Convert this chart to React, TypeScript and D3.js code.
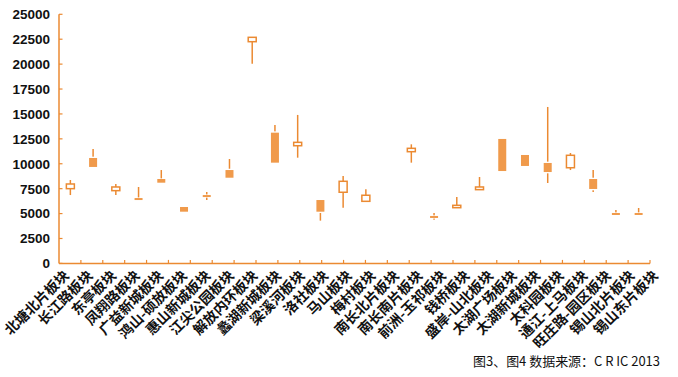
import React from "react";
import * as d3 from "d3";

const categories = [
  "北塘北片板块", "长江路板块", "东亭板块", "凤翔路板块", "广益新城板块",
  "鸿山-硕放板块", "惠山新城板块", "江尖公园板块", "解放内环板块", "蠡湖新城板块",
  "梁溪河板块", "洛社板块", "马山板块", "梅村板块", "南长北片板块",
  "南长南片板块", "前洲-玉祁板块", "钱桥板块", "盛岸-山北板块", "太湖广场板块",
  "太湖新城板块", "太科园板块", "通江-上马板块", "旺庄路-园区板块", "锡山北片板块",
  "锡山东片板块",
];

const openVals: (number | null)[] = [7500, 10580, 7300, 6560, 8470, 5660, 6860, 9370, 22250, 13120, 11810, 6360, 7140, 6230, null, 11210, 4760, 5590, 7400, 12490, 10880, 10080, 9600, 8470, 5060, 5060];
const highVals: (number | null)[] = [8370, 11480, 7970, 7670, 9370, 5660, 7170, 10480, 22690, 13890, 14900, 6360, 8770, 7440, null, 11950, 5060, 6660, 8670, 12490, 10880, 15700, 11080, 9370, 5360, 5560];
const lowVals: (number | null)[] = [6860, 9650, 6860, 6360, 8100, 5190, 6360, 8600, 20040, 10110, 10610, 4290, 5590, 6230, null, 10110, 4390, 5590, 7400, 9270, 9780, 8070, 9370, 7170, 4860, 4860];
const closeVals: (number | null)[] = [7970, 9680, 7670, 6360, 8100, 5190, 6660, 8600, 22690, 10110, 12150, 5190, 8240, 6840, null, 11550, 4590, 5830, 7670, 9270, 9780, 9170, 10850, 7470, 4860, 4860];

const yTicks = [0, 2500, 5000, 7500, 10000, 12500, 15000, 17500, 20000, 22500, 25000];
const sourceNote = "图3、图4 数据来源：C R IC 2013";

const W = 678;
const H = 377;
const ORANGE = "#EB8A32";
const FILL = "#F09A4B";

export default function App() {
  const left = 59, right = 650, top = 14.3, bottom = 263.4;
  const y = d3.scaleLinear().domain([0, 25000]).range([bottom, top]);
  const x = d3.scaleBand<string>().domain(categories).range([left, right]).padding(0);
  const labelX = d3.scalePoint<string>().domain(categories).range([70, 659]);
  const tickScale = d3.scaleLinear().domain([0, 27]).range([left, right]);
  const xTicks = d3.range(1, 28).map((i) => tickScale(i));
  const boxW = 8;

  return (
    <svg width={W} height={H} style={{ position: "absolute", left: 0, top: 0, background: "#fff" }}>
      {/* y axis */}
      <line x1={left} x2={left} y1={top} y2={bottom} stroke={ORANGE} strokeWidth={1.5} />
      {yTicks.map((t) => (
        <g key={t}>
          <line x1={left} x2={left + 3.5} y1={y(t)} y2={y(t)} stroke={ORANGE} strokeWidth={1.2} />
          <text x={50} y={y(t)} dy="0.36em" textAnchor="end" fontFamily="'Liberation Sans', Arial, sans-serif" fontSize={13.5} fontWeight="bold" fill="#111">
            {t}
          </text>
        </g>
      ))}
      {/* x axis */}
      <line x1={left} x2={right} y1={bottom} y2={bottom} stroke={ORANGE} strokeWidth={1.5} />
      {xTicks.map((tx, i) => (
        <line key={i} x1={tx} x2={tx} y1={bottom} y2={bottom - 3.5} stroke={ORANGE} strokeWidth={1.2} />
      ))}
      {/* candles */}
      {categories.map((c, i) => {
        const o = openVals[i], h = highVals[i], l = lowVals[i], cl = closeVals[i];
        if (o == null || h == null || l == null || cl == null) return null;
        const cx = (x(c) as number) + x.bandwidth() / 2;
        const up = cl >= o;
        const yTop = y(Math.max(o, cl));
        const yBot = y(Math.min(o, cl));
        const bh = Math.max(yBot - yTop, 2);
        const gap = bh > 4 ? 1.3 : 0.6;
        return (
          <g key={c}>
            <line x1={cx} x2={cx} y1={y(h)} y2={y(l)} stroke={ORANGE} strokeWidth={1.5} />
            {up ? (
              <rect x={cx - boxW / 2} y={yTop} width={boxW} height={bh} fill="#fff" stroke={ORANGE} strokeWidth={1.5} />
            ) : (
              <g>
                <rect x={cx - boxW / 2 - gap} y={yTop - gap} width={boxW + 2 * gap} height={bh + 2 * gap} fill="#fff" />
                <rect x={cx - boxW / 2} y={yTop} width={boxW} height={bh} fill={FILL} />
              </g>
            )}
          </g>
        );
      })}
      {/* category labels */}
      {categories.map((c) => (
        <text
          key={c}
          transform={`translate(${labelX(c)},${bottom + 13}) rotate(-45)`}
          textAnchor="end"
          fontFamily="'Noto Sans CJK SC', sans-serif"
          fontSize={14}
          fontWeight="bold"
          fill="#111"
        >
          {c}
        </text>
      ))}
      <text x={660} y={366} textAnchor="end" fontFamily="'Noto Sans CJK SC', sans-serif" fontSize={13} textLength={187} lengthAdjust="spacing" fill="#111">
        {sourceNote}
      </text>
    </svg>
  );
}
